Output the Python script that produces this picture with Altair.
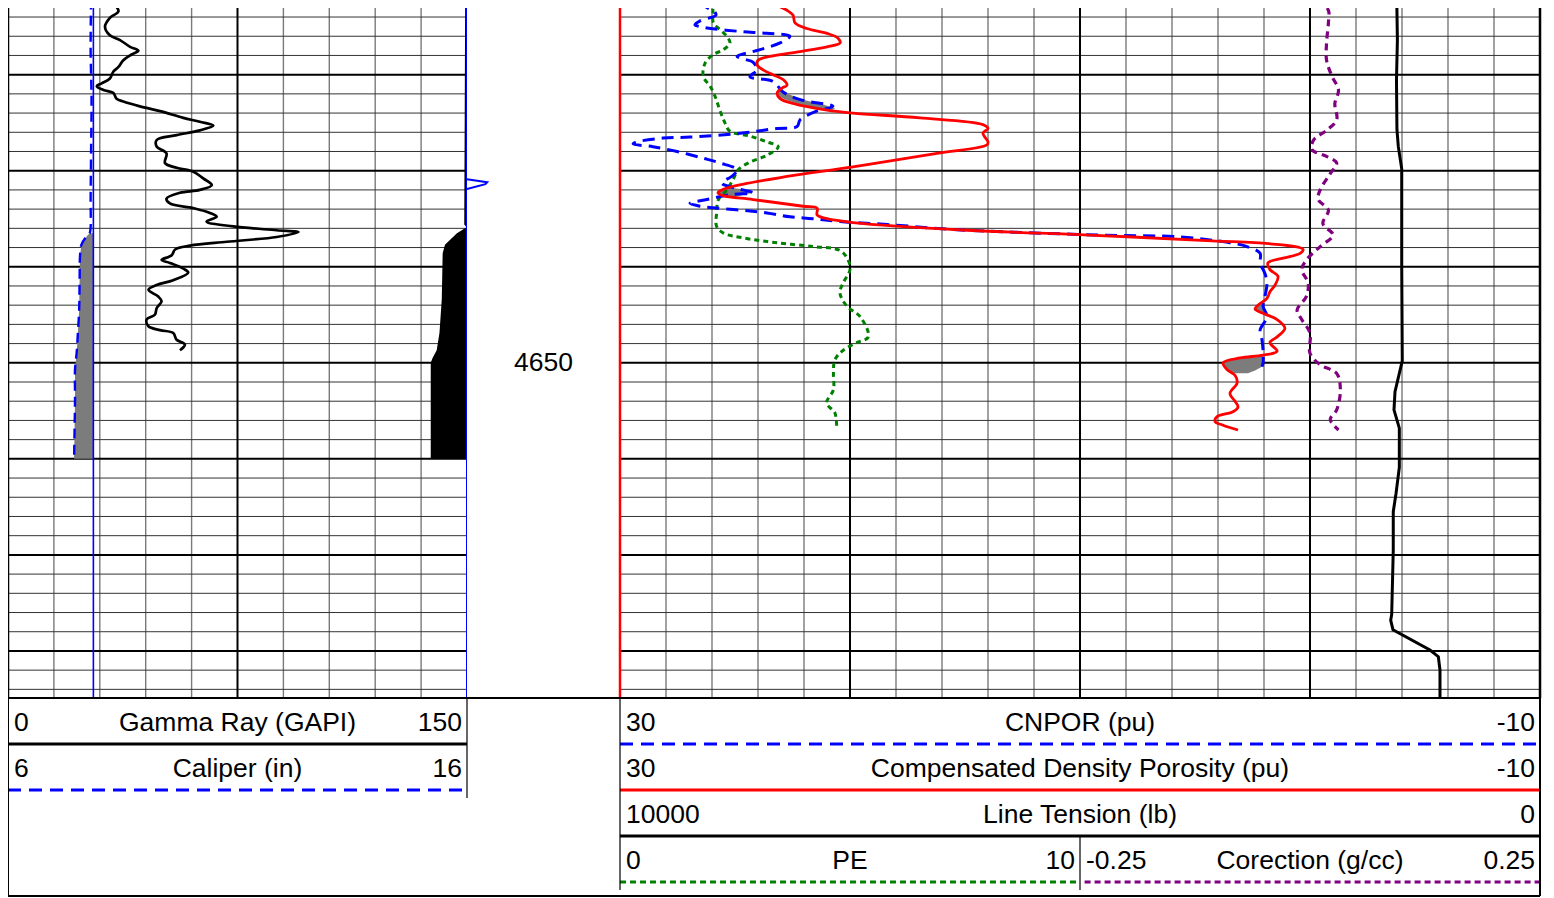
import altair as alt
import pandas as pd

FONT = "Liberation Sans"
FS = 26.5
DEPTH_TOP, DEPTH_BOTTOM = 4613.06, 4684.9
CHECK = "#7c7c7c"

# ---------------- Track 1: Gamma Ray / Caliper ----------------
GR_DEPTH = [4612.2, 4612.7, 4613.4, 4614.1, 4615.0, 4615.9, 4616.4, 4617.1, 4617.5, 4617.9,
            4618.5, 4619.2, 4619.7, 4620.4, 4620.9, 4621.2, 4621.6, 4621.9, 4622.5, 4622.8,
            4623.3, 4623.8, 4624.5, 4624.9, 4625.3, 4625.8, 4626.3, 4626.8, 4627.5, 4628.2,
            4629.2, 4629.7, 4630.1, 4630.8, 4631.5, 4632.0, 4632.3, 4632.9, 4633.4, 4633.9,
            4634.4, 4634.8, 4635.3, 4635.8, 4636.2, 4636.4, 4636.9, 4637.4, 4637.8, 4638.2,
            4638.8, 4639.3, 4639.6, 4640.2, 4640.6, 4641.4, 4641.9, 4642.4, 4643.1, 4643.6,
            4644.3, 4645.0, 4645.5, 4646.2, 4646.6, 4646.9, 4647.6, 4648.1, 4648.7]
GR_VALUE = [34.4, 35.0, 36.1, 33.3, 31.7, 33.3, 36.6, 39.9, 42.6, 40.4,
            37.7, 36.1, 34.4, 33.3, 30.6, 29.0, 31.2, 34.4, 35.5, 37.7,
            43.1, 49.7, 57.3, 62.7, 67.1, 62.7, 55.1, 48.6, 48.6, 51.8,
            51.3, 55.1, 60.6, 63.8, 66.6, 62.7, 56.2, 51.8, 52.9, 60.6,
            66.0, 68.2, 64.9, 73.6, 87.8, 94.9, 87.8, 71.5, 59.5, 54.6,
            53.5, 50.2, 52.9, 57.3, 58.9, 54.0, 48.6, 45.9, 49.1, 50.2,
            48.6, 48.0, 45.3, 45.9, 49.7, 54.0, 55.1, 57.8, 56.2]

CAL_DEPTH = [4612.2, 4617.4, 4622.6, 4627.8, 4633.0, 4635.9, 4636.5, 4636.8, 4637.7, 4638.8,
             4641.4, 4644.5, 4647.1, 4648.7, 4649.7, 4650.7, 4653.9, 4657.0, 4660.0]
CAL_VALUE = [7.81, 7.80, 7.82, 7.81, 7.80, 7.80, 7.78, 7.72, 7.60, 7.57,
             7.56, 7.55, 7.52, 7.50, 7.48, 7.46, 7.46, 7.45, 7.44]
BIT_SIZE = 7.86
MUDCAKE_START = 4636.5

EDGE_DEPTH = [4612.2, 4624.7, 4635.6, 4635.9, 4636.5, 4637.7, 4638.6, 4643.4, 4646.9, 4648.7,
              4649.5, 4650.0, 4660.0]
EDGE_VALUE = [15.96, 15.95, 15.94, 15.99, 15.78, 15.52, 15.47, 15.45, 15.40, 15.34,
              15.25, 15.21, 15.21]
EDGE_LIMIT = 16.0

RIGHT_DEPTH = [4612.2, 4684.9]
RIGHT_VALUE = [16.0, 16.0]
SPIKE_DEPTH = [4630.9, 4631.2, 4631.4, 4631.9]
SPIKE_VALUE = [16.0, 16.44, 16.40, 16.0]

# ---------------- Track 2: porosity etc. ----------------
CNPOR_DEPTH = [4612.2, 4612.7, 4613.5, 4613.8, 4614.4, 4614.8, 4615.1, 4615.5, 4615.7, 4616.0,
               4616.7, 4617.4, 4618.1, 4618.4, 4618.7, 4619.5, 4620.2, 4620.7, 4621.8, 4622.6,
               4623.3, 4623.8, 4624.7, 4625.4, 4625.6, 4626.1, 4626.5, 4626.6, 4627.0, 4627.2,
               4627.5, 4628.0, 4628.7, 4629.2, 4629.9, 4630.5, 4631.3, 4631.8, 4632.3, 4632.5,
               4633.0, 4633.4, 4633.7, 4634.1, 4634.4, 4634.8, 4635.0, 4635.3, 4635.6, 4636.1,
               4636.4, 4636.7, 4636.9, 4637.5, 4637.9, 4638.6, 4639.6, 4640.7, 4641.7, 4643.1,
               4644.1, 4645.2, 4646.6, 4647.6, 4648.7, 4650.0, 4650.4]
CNPOR_VALUE = [26.39, 26.39, 25.87, 25.83, 26.52, 26.74, 26.30, 24.78, 23.61, 22.61,
               23.04, 23.91, 24.91, 24.57, 24.22, 24.04, 24.35, 23.35, 22.91, 22.17,
               20.74, 21.45, 22.17, 22.30, 23.17, 24.78, 26.96, 28.13, 29.26, 29.43,
               28.57, 27.52, 26.39, 25.65, 24.91, 25.09, 25.57, 25.0, 24.22, 25.22,
               26.22, 26.96, 26.52, 24.78, 23.61, 22.61, 21.61, 20.43, 18.39, 15.65,
               12.91, 9.13, 5.65, 3.48, 2.74, 2.17, 2.17, 1.96, 1.87, 1.96,
               2.04, 1.87, 2.17, 2.09, 2.04, 2.04, 2.09]

DEN_DEPTH = [4612.2, 4612.6, 4613.3, 4613.8, 4614.6, 4615.2, 4615.7, 4616.2, 4616.7, 4617.1,
             4617.6, 4618.1, 4618.5, 4619.0, 4619.5, 4620.0, 4620.5, 4621.1, 4621.4, 4621.9,
             4622.5, 4623.0, 4623.7, 4624.0, 4624.5, 4625.2, 4625.6, 4626.1, 4627.0, 4627.3,
             4628.2, 4629.6, 4630.6, 4631.7, 4632.1, 4632.3, 4632.6, 4633.0, 4633.7, 4633.9,
             4634.6, 4635.0, 4635.4, 4636.2, 4636.7, 4637.3, 4637.6, 4638.2, 4638.6, 4639.1,
             4639.6, 4640.3, 4641.0, 4641.9, 4642.6, 4643.3, 4644.0, 4644.4, 4644.8, 4645.5,
             4646.4, 4647.3, 4647.9, 4648.8, 4649.2, 4649.5, 4650.0, 4650.7, 4651.3, 4652.1,
             4653.2, 4654.0, 4654.6, 4655.1, 4655.6, 4656.1, 4656.5, 4657.0]
DEN_VALUE = [23.70, 23.35, 22.74, 22.48, 22.39, 21.87, 21.0, 20.52, 20.43, 21.0,
             22.17, 23.48, 24.0, 24.04, 23.78, 23.35, 22.91, 22.74, 22.96, 23.17,
             23.04, 22.48, 21.0, 19.87, 16.96, 14.22, 14.0, 14.22, 14.0, 14.04,
             16.22, 19.87, 22.74, 25.22, 25.65, 25.74, 25.52, 24.22, 22.04, 21.43,
             21.43, 21.0, 19.87, 14.91, 9.61, 4.26, 1.78, 0.30, 0.43, 1.17,
             1.83, 1.74, 1.39, 1.52, 1.74, 1.87, 2.26, 2.39, 2.09, 1.43,
             1.09, 1.43, 1.74, 1.43, 2.04, 3.04, 3.78, 3.61, 3.26, 3.17,
             3.48, 3.26, 3.13, 3.35, 4.04, 4.13, 3.78, 3.13]

# crossover shading (density porosity > neutron porosity)
FILL_PATCH = [1] * 7 + [2] * 5 + [3] * 5 + [4] * 6
FILL_DEPTH = [4621.5, 4621.9, 4622.3, 4622.7, 4623.1, 4623.5, 4623.7,
              4631.8, 4632.0, 4632.3, 4632.6, 4632.7,
              4643.9, 4644.2, 4644.4, 4644.7, 4644.9,
              4649.2, 4649.5, 4650.0, 4650.4, 4650.8, 4651.1]
FILL_DEN = [23.13, 23.17, 23.09, 22.70, 22.17, 21.52, 20.96,
            25.30, 25.61, 25.74, 25.57, 25.13,
            2.22, 2.35, 2.39, 2.22, 2.04,
            2.09, 3.04, 3.78, 3.70, 3.57, 3.35]
FILL_NEU = [23.09, 22.78, 22.39, 21.91, 21.17, 20.65, 20.78,
            25.13, 24.43, 24.22, 24.78, 25.04,
            2.04, 2.04, 2.04, 2.00, 2.00,
            2.00, 2.04, 2.04, 2.09, 2.39, 2.70]

PE_DEPTH = [4612.2, 4613.3, 4614.6, 4615.3, 4616.0, 4616.7, 4617.4, 4617.9, 4618.8, 4620.2,
            4621.2, 4622.3, 4623.7, 4625.0, 4625.9, 4626.4, 4627.0, 4627.5, 4628.4, 4629.1,
            4629.9, 4630.9, 4632.0, 4633.0, 4634.4, 4635.8, 4636.5, 4637.0, 4637.5, 4637.9,
            4638.3, 4639.3, 4640.3, 4641.7, 4642.7, 4644.1, 4645.2, 4647.3, 4647.9, 4648.7,
            4649.7, 4651.1, 4652.8, 4654.2, 4655.2, 4656.6]
PE_VALUE = [1.99, 2.02, 2.03, 2.17, 2.32, 2.39, 2.25, 2.03, 1.85, 1.81,
            1.96, 2.07, 2.17, 2.28, 2.39, 2.83, 3.19, 3.44, 3.19, 2.83,
            2.57, 2.46, 2.32, 2.14, 2.10, 2.10, 2.25, 2.68, 3.41, 4.20,
            4.78, 4.96, 5.0, 4.85, 4.78, 4.93, 5.22, 5.40, 5.15, 4.85,
            4.67, 4.64, 4.64, 4.49, 4.67, 4.71]

CORR_DEPTH = [4612.2, 4613.3, 4614.6, 4616.7, 4618.5, 4620.2, 4621.6, 4623.0, 4624.7, 4625.8,
              4626.8, 4627.8, 4628.5, 4629.2, 4630.3, 4632.0, 4633.0, 4634.1, 4635.5, 4636.7,
              4637.9, 4639.3, 4640.3, 4641.7, 4643.1, 4644.5, 4645.5, 4646.9, 4649.0, 4650.2,
              4651.1, 4652.8, 4654.9, 4655.9, 4657.0]
CORR_VALUE = [0.009, 0.020, 0.020, 0.018, 0.018, 0.024, 0.031, 0.027, 0.029, 0.018,
              0.004, 0.002, 0.018, 0.029, 0.022, 0.011, 0.009, 0.020, 0.014, 0.025,
              0.011, -0.004, -0.009, -0.002, -0.004, -0.014, -0.009, 0.0, 0.0, 0.011,
              0.029, 0.033, 0.029, 0.022, 0.031]

TEN_DEPTH = [4612.2, 4616.4, 4620.5, 4625.7, 4627.5, 4629.8, 4640.0, 4649.8, 4653.0, 4654.9,
             4656.8, 4660.9, 4663.6, 4665.5, 4669.5, 4676.2, 4676.8, 4677.8, 4679.9, 4680.6,
             4682.0, 4684.9]
TEN_VALUE = [1557, 1550, 1560, 1555, 1540, 1503, 1503, 1497, 1576, 1587,
             1529, 1529, 1565, 1595, 1595, 1612, 1623, 1598, 1196, 1105,
             1087, 1087]

# grid / labels
GR_GRID_MINOR = [15, 30, 45, 60, 90, 105, 120, 135]
GR_GRID_MAJOR = [75]
POR_GRID_MINOR = [28, 26, 24, 22, 18, 16, 14, 12, 8, 6, 4, 2, -2, -4, -6, -8]
POR_GRID_MAJOR = [20, 10, 0]
DEPTH_GRID_MINOR = [d for d in range(4614, 4685, 2) if d % 10 != 0]
DEPTH_GRID_MAJOR = [4620, 4630, 4640, 4650, 4660, 4670, 4680]
DEPTH_LABELS = [4650]

# ---------------- helpers ----------------
yscale = alt.Scale(domain=[DEPTH_TOP, DEPTH_BOTTOM], reverse=True, nice=False, zero=False)


def Y(field="depth"):
    return alt.Y(f"{field}:Q", scale=yscale, axis=None)


def lin(domain, reverse=False):
    return alt.Scale(domain=domain, nice=False, zero=False, reverse=reverse)


S_GR = lin([0, 150])
S_CAL = lin([6, 16])
S_POR = lin([-10, 30], True)
S_TEN = lin([0, 10000], True)
S_PE = lin([0, 20])
S_COR = lin([-0.75, 0.25])


def vrules(values, scale, color, width):
    return alt.Chart(pd.DataFrame({"v": values})).mark_rule(color=color, strokeWidth=width).encode(
        x=alt.X("v:Q", scale=scale, axis=None))


def hrules(values, color, width):
    return alt.Chart(pd.DataFrame({"depth": values})).mark_rule(color=color, strokeWidth=width).encode(y=Y())


def curve(depths, values, scale, color, width, dash=None, interp="catmull-rom", clip=True):
    df = pd.DataFrame({"depth": depths, "v": values})
    kw = dict(color=color, strokeWidth=width, interpolate=interp, clip=clip)
    if dash:
        kw["strokeDash"] = dash
    return alt.Chart(df).mark_line(**kw).encode(
        x=alt.X("v:Q", scale=scale, axis=None), y=Y(), order=alt.Order("depth:Q"))


# ---------------- left track ----------------
cal_df = pd.DataFrame({"depth": CAL_DEPTH, "cal": CAL_VALUE, "bit": BIT_SIZE})
edge_df = pd.DataFrame({"depth": EDGE_DEPTH, "edge": EDGE_VALUE, "lim": EDGE_LIMIT})

left = alt.layer(
    vrules(GR_GRID_MINOR, S_GR, "#7a7a7a", 1.4),
    hrules(DEPTH_GRID_MINOR, "#333333", 1),
    hrules(DEPTH_GRID_MAJOR, "black", 2),
    vrules(GR_GRID_MAJOR, S_GR, "black", 2),
    vrules([0], S_GR, "black", 2.5),
    alt.Chart(cal_df).transform_filter(f"datum.depth >= {MUDCAKE_START}").mark_area(
        color=CHECK, orient="horizontal", clip=True).encode(
        y=Y(), x=alt.X("cal:Q", scale=S_CAL, axis=None), x2="bit:Q"),
    alt.Chart(edge_df).mark_area(color="black", orient="horizontal", clip=True).encode(
        y=Y(), x=alt.X("edge:Q", scale=S_CAL, axis=None), x2="lim:Q"),
    alt.Chart(pd.DataFrame({"bit": [BIT_SIZE]})).mark_rule(color="#0000ff", strokeWidth=1.6).encode(
        x=alt.X("bit:Q", scale=S_CAL, axis=None)),
    curve(RIGHT_DEPTH, RIGHT_VALUE, S_CAL, "#0000ff", 2, interp="linear"),
    curve(SPIKE_DEPTH, SPIKE_VALUE, S_CAL, "#0000ff", 2, interp="linear", clip=False),
    curve(CAL_DEPTH, CAL_VALUE, S_CAL, "#0000ff", 2.4, dash=[10, 6]),
    curve(GR_DEPTH, GR_VALUE, S_GR, "black", 2.7),
).resolve_scale(x="independent").properties(width=459, height=690)

# ---------------- depth track ----------------
mid = alt.Chart(pd.DataFrame({"depth": DEPTH_LABELS})).mark_text(
    font=FONT, fontSize=FS, color="black", baseline="middle", align="center").encode(
    y=Y(), x=alt.value(76.5), text=alt.Text("depth:Q", format="d")).properties(width=153, height=690)

# ---------------- right track ----------------
fill_df = pd.DataFrame({"depth": FILL_DEPTH, "den": FILL_DEN, "neu": FILL_NEU, "patch": FILL_PATCH})

right = alt.layer(
    vrules(POR_GRID_MINOR, S_POR, "#7a7a7a", 1.4),
    hrules(DEPTH_GRID_MINOR, "#333333", 1),
    hrules(DEPTH_GRID_MAJOR, "black", 2),
    vrules(POR_GRID_MAJOR, S_POR, "black", 2),
    vrules([-10], S_POR, "black", 2.5),
    vrules([30], S_POR, "#ff0000", 2.5),
    alt.Chart(fill_df).mark_area(color=CHECK, orient="horizontal", clip=True).encode(
        y=Y(), x=alt.X("den:Q", scale=S_POR, axis=None), x2="neu:Q", detail="patch:N"),
    curve(TEN_DEPTH, TEN_VALUE, S_TEN, "black", 3, interp="linear"),
    curve(CORR_DEPTH, CORR_VALUE, S_COR, "#800080", 3.2, dash=[7, 5]),
    curve(PE_DEPTH, PE_VALUE, S_PE, "#008000", 3, dash=[5, 4]),
    curve(CNPOR_DEPTH, CNPOR_VALUE, S_POR, "#0000ff", 3, dash=[12, 7]),
    curve(DEN_DEPTH, DEN_VALUE, S_POR, "#ff0000", 2.8),
).resolve_scale(x="independent").properties(width=920, height=690)

# ---------------- header ----------------
HDR_H = 199
ROW_H = 46
HDR_ROWS = HDR_H / ROW_H
HDR_BOTTOM = (HDR_H - 1) / ROW_H
hx = lin([0, 1])
hy = lin([0, HDR_ROWS], True)

HL_ROW = [0, 1]
HL_X0 = [0, 0]
HL_X1 = [1, 1]
HL_LO = ["0", "6"]
HL_NAME = ["Gamma Ray (GAPI)", "Caliper (in)"]
HL_HI = ["150", "16"]

HR_ROW = [0, 1, 2, 3, 3]
HR_X0 = [0, 0, 0, 0, 0.5]
HR_X1 = [1, 1, 1, 0.5, 1]
HR_LO = ["30", "30", "10000", "0", "-0.25"]
HR_NAME = ["CNPOR (pu)", "Compensated Density Porosity (pu)", "Line Tension (lb)", "PE", "Corection (g/cc)"]
HR_HI = ["-10", "-10", "0", "10", "0.25"]


def header(width, rows, x0, x1, lo, name, hi, lines):
    layers = []
    for (lx0, lx1, ly0, ly1, color, w, dash) in lines:
        kw = dict(color=color, strokeWidth=w)
        if dash:
            kw["strokeDash"] = dash
        layers.append(alt.Chart(pd.DataFrame({"x0": [lx0], "x1": [lx1], "y0": [ly0], "y1": [ly1]})).mark_rule(**kw).encode(
            x=alt.X("x0:Q", scale=hx, axis=None), x2="x1:Q",
            y=alt.Y("y0:Q", scale=hy, axis=None), y2="y1:Q"))
    if len(rows):
        df = pd.DataFrame({"row": rows, "x0": x0, "x1": x1, "lo": lo, "name": name, "hi": hi})
        base = alt.Chart(df).transform_calculate(yc="datum.row + 0.5", xc="(datum.x0 + datum.x1) / 2")
        yenc = alt.Y("yc:Q", scale=hy, axis=None)
        tk = dict(baseline="middle", font=FONT, fontSize=FS, color="black", dy=2)
        layers += [
            base.mark_text(align="left", dx=6, **tk).encode(x=alt.X("x0:Q", scale=hx, axis=None), y=yenc, text="lo:N"),
            base.mark_text(align="center", **tk).encode(x=alt.X("xc:Q", scale=hx, axis=None), y=yenc, text="name:N"),
            base.mark_text(align="right", dx=-5, **tk).encode(x=alt.X("x1:Q", scale=hx, axis=None), y=yenc, text="hi:N"),
        ]
    return alt.layer(*layers).properties(width=width, height=HDR_H)


hl = header(459, HL_ROW, HL_X0, HL_X1, HL_LO, HL_NAME, HL_HI, [
    (0, 1, 0, 0, "black", 2, None),
    (0, 1, 1, 1, "black", 3, None),
    (0, 1, 2, 2, "#0000ff", 3, [13, 8]),
    (0, 1, HDR_BOTTOM, HDR_BOTTOM, "black", 2, None),
    (0, 0, 0, HDR_BOTTOM, "black", 2, None),
    (1, 1, 0, 100 / ROW_H, "black", 1.2, None),
])
hm = header(153, [], [], [], [], [], [], [
    (0, 1, 0, 0, "black", 2, None),
    (0, 1, HDR_BOTTOM, HDR_BOTTOM, "black", 2, None),
])
hr = header(920, HR_ROW, HR_X0, HR_X1, HR_LO, HR_NAME, HR_HI, [
    (0, 1, 0, 0, "black", 2, None),
    (0, 1, 1, 1, "#0000ff", 3, [13, 8]),
    (0, 1, 2, 2, "#ff0000", 3, None),
    (0, 1, 3, 3, "black", 3, None),
    (0, 0.5, 4, 4, "#008000", 3, [6, 4]),
    (0.505, 1, 4, 4, "#800080", 3, [6, 4]),
    (0, 1, HDR_BOTTOM, HDR_BOTTOM, "black", 2, None),
    (0, 0, 0, 192 / ROW_H, "black", 1.2, None),
    (0.5, 0.5, 3, 192 / ROW_H, "black", 1.2, None),
    (1, 1, 0, HDR_BOTTOM, "black", 2, None),
])

chart = alt.concat(left, mid, right, hl, hm, hr, columns=3, spacing=0, bounds="flush",
                   align="each").properties(
    padding={"left": -2, "top": -2, "right": 0, "bottom": 0},
    background="white").configure_view(strokeWidth=0)

chart.save("out.html", embed_options={"renderer": "svg", "actions": False})
